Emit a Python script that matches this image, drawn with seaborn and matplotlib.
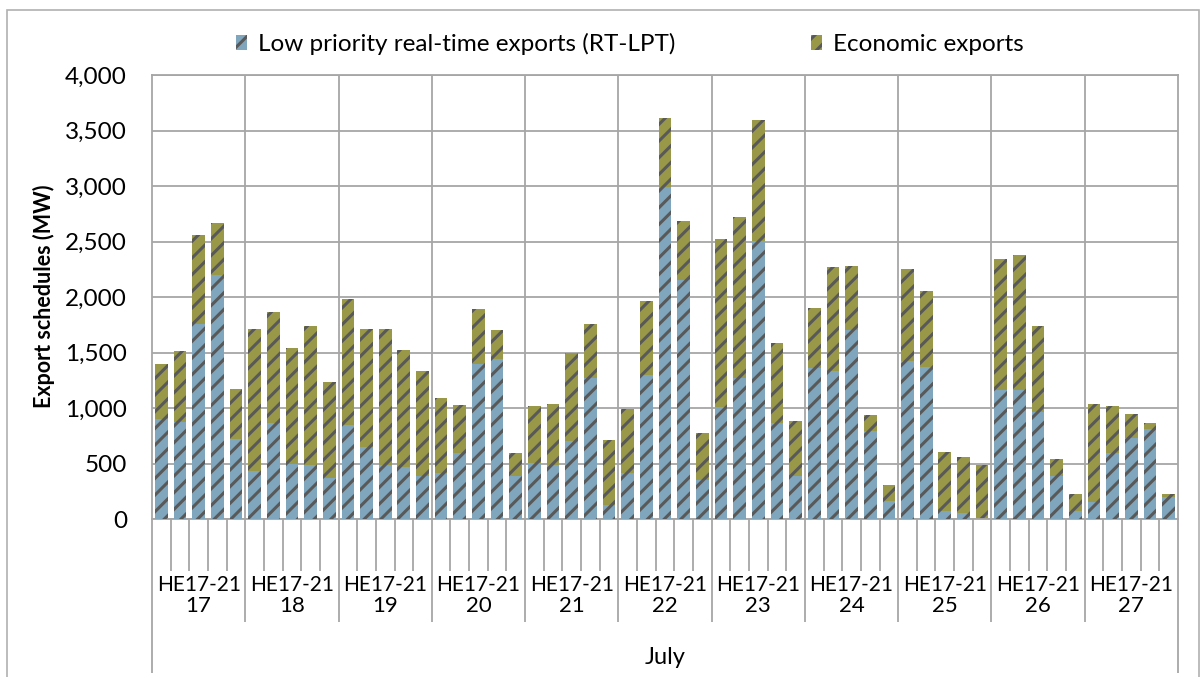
import matplotlib
matplotlib.use("Agg")
import matplotlib.pyplot as plt
import matplotlib.transforms as mtransforms
from matplotlib.patches import Patch, Rectangle
import seaborn as sns
import pandas as pd
import numpy as np

# ---------------- data ----------------
days = ["17", "18", "19", "20", "21", "22", "23", "24", "25", "26", "27"]
hours = ["HE17", "HE18", "HE19", "HE20", "HE21"]
hour_group_label = "HE17-21"
month_label = "July"

low_priority = [
    898, 877, 1760, 2195, 719,      # 17
    434, 862, 497, 488, 368,        # 18
    847, 653, 488, 464, 383,        # 19
    413, 599, 1392, 1437, 383,      # 20
    503, 488, 704, 1266, 129,       # 21
    413, 1296, 2988, 2156, 347,     # 22
    1012, 1266, 2503, 868, 383,     # 23
    1356, 1332, 1707, 793, 165,     # 24
    1422, 1371, 75, 54, 0,          # 25
    1162, 1162, 967, 383, 75,       # 26
    153, 593, 728, 811, 198,        # 27
]
economic = [
    494, 635, 800, 473, 449,        # 17
    1276, 1003, 1042, 1249, 869,    # 18
    1132, 1057, 1222, 1063, 946,    # 19
    674, 428, 500, 264, 216,        # 20
    515, 548, 787, 494, 584,        # 21
    575, 665, 629, 530, 431,        # 22
    1509, 1456, 1096, 722, 500,     # 23
    545, 940, 574, 141, 140,        # 24
    829, 680, 533, 509, 488,        # 25
    1176, 1212, 770, 159, 153,      # 26
    880, 428, 218, 57, 30,          # 27
]
series_names = ["Low priority real-time exports (RT-LPT)", "Economic exports"]

# ---------------- style ----------------
BLUE = "#7FA6BC"
OLIVE = "#989848"
STRIPE = "#595959"
GRID = "#A6A6A6"

plt.rcParams["hatch.linewidth"] = 2.2
plt.rcParams["font.family"] = ["Lato", "DejaVu Sans"]

df = pd.DataFrame({
    "day": np.repeat(days, len(hours)),
    "hour": hours * len(days),
    "low": low_priority,
    "econ": economic,
})
df["slot"] = df["day"] + "-" + df["hour"]
df["total"] = df["low"] + df["econ"]
order = list(df["slot"])
n = len(order)
n_h = len(hours)

W, H = 1201, 677
fig = plt.figure(figsize=(W / 100, H / 100), dpi=100)
ax = fig.add_axes([152 / W, 1 - 519 / H, (1178 - 152) / W, (519 - 75) / H])

sns.barplot(data=df, x="slot", y="total", order=order, color=OLIVE, saturation=1,
            errorbar=None, width=0.68, ax=ax, zorder=2)
sns.barplot(data=df, x="slot", y="low", order=order, color=BLUE, saturation=1,
            errorbar=None, width=0.68, ax=ax, zorder=3)

for p in ax.patches:
    p.set_hatch("//")
    p.set_edgecolor(STRIPE)
    p.set_linewidth(0)

ax.set_xlim(-0.5, n - 0.5)
ax.set_ylim(0, 4000)
ax.set_yticks(np.arange(0, 4001, 500))
ax.set_yticklabels([f"{v:,}" for v in range(0, 4001, 500)], fontsize=17.5)
ax.tick_params(axis="y", length=0, pad=18)
ax.set_xticks([])
ax.set_xlabel("")
ax.set_ylabel("")
ax.yaxis.grid(True, color=GRID, linewidth=1.3, zorder=0)
ax.set_axisbelow(True)
for s in ax.spines.values():
    s.set_color(GRID)
    s.set_linewidth(1.3)

# vertical separators between days (inside plot)
for k in range(1, len(days)):
    ax.axvline(k * n_h - 0.5, color=GRID, linewidth=1.3, zorder=1)

# category axis tick lines below the plot
trans = mtransforms.blended_transform_factory(ax.transData, ax.transAxes)
ah = 519 - 75
y_small = -(571 - 519) / ah
y_mid = -(622 - 519) / ah
y_big = -(673 - 519) / ah
for b in range(n + 1):
    xb = b - 0.5
    if b == 0 or b == n:
        y1 = y_big
    elif b % n_h == 0:
        y1 = y_mid
    else:
        y1 = y_small
    ax.plot([xb, xb], [0, y1], color=GRID, linewidth=1.3, transform=trans,
            clip_on=False, solid_capstyle="butt")

# category labels
tf = mtransforms.blended_transform_factory(ax.transData, fig.transFigure)
for i, d in enumerate(days):
    xc = i * n_h + (n_h - 1) / 2
    ax.text(xc, 1 - 585 / H, hour_group_label, transform=tf, ha="center",
            va="center", fontsize=15, color="black")
    ax.text(xc, 1 - 606 / H, d, transform=tf, ha="center", va="center",
            fontsize=16, color="black")
ax.text((n - 1) / 2, 1 - 657 / H, month_label, transform=tf, ha="center",
        va="center", fontsize=17, color="black")

fig.text(44 / W, 1 - 296 / H, "Export schedules (MW)", rotation=90,
         ha="center", va="center", fontsize=15.5, fontweight="bold")

# legend
handles = [Patch(facecolor=BLUE, edgecolor=STRIPE, linewidth=0, hatch="//"),
           Patch(facecolor=OLIVE, edgecolor=STRIPE, linewidth=0, hatch="//")]
fig.legend(handles, series_names, loc="center", bbox_to_anchor=(630 / W, 1 - 44 / H),
           ncol=2, frameon=False, fontsize=17.5, handlelength=0.45, handleheight=0.6,
           handletextpad=0.45, columnspacing=5.6, borderpad=0)

# outer chart border
fig.patches.append(Rectangle((7 / W, -0.05), (1199 - 7) / W, 1.05 - 10 / H,
                             transform=fig.transFigure, fill=False,
                             edgecolor="#B0B0B0", linewidth=1.2, clip_on=False))

fig.savefig("out.png", dpi=100, facecolor="white")
